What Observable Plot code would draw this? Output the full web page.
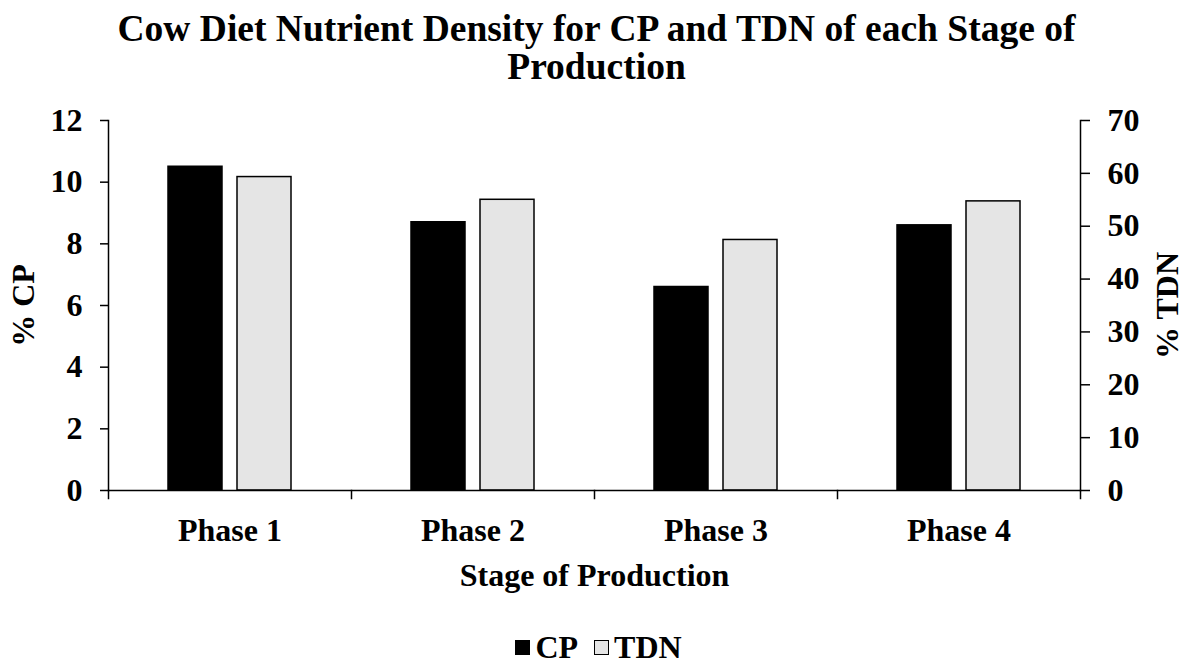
<!DOCTYPE html>
<html>
<head>
<meta charset="utf-8">
<script src="https://cdn.jsdelivr.net/npm/d3@7"></script>
<script src="https://cdn.jsdelivr.net/npm/@observablehq/plot@0.6"></script>
<style>
  html, body { margin: 0; padding: 0; background: white; }
  body { width: 1185px; height: 665px; overflow: hidden; font-family: "Liberation Serif", "Times New Roman", serif; font-weight: bold; color: black; }
  #title { height: 100px; box-sizing: border-box; padding-top: 10px; text-align: center; font-size: 37.5px; line-height: 38px; padding-left: 8px; }
  #chart { height: 520px; }
  #legend { display: flex; justify-content: center; align-items: center; height: 45px; margin-top: 5px; font-size: 32px; padding-left: 12px; }
  .sw { display: inline-block; width: 15px; height: 15px; box-sizing: border-box; margin-right: 5px; }
  .item { display: flex; align-items: center; margin: 0 8px; }
</style>
</head>
<body>
<div id="title">Cow Diet Nutrient Density for CP and TDN of each Stage of<br>Production</div>
<div id="chart"></div>
<div id="legend"></div>
<script>
const phases = ["Phase 1", "Phase 2", "Phase 3", "Phase 4"];
const series = ["CP", "TDN"];
const cpValues = [10.5, 8.7, 6.6, 8.6];
const tdnValues = [59.3, 55.0, 47.4, 54.7];
const cpTicks = [0, 2, 4, 6, 8, 10, 12];
const tdnTicks = [0, 10, 20, 30, 40, 50, 60, 70];
const seriesColors = ["#000000", "#e5e5e5"];
const cpMax = 12, tdnMax = 70;

const rows = phases.flatMap((p, i) => [
  {phase: p, series: "CP", value: cpValues[i], yv: cpValues[i]},
  {phase: p, series: "TDN", value: tdnValues[i], yv: tdnValues[i] * cpMax / tdnMax}
]);

const W = 1185, H = 520, mT = 20, mB = 130, mL = 108, mR = 105;
const innerH = H - mT - mB;
const sw = 1.5;
const fs = 32;

const chart = Plot.plot({
  width: W, height: H,
  marginTop: mT, marginBottom: mB, marginLeft: mL, marginRight: mR,
  style: {fontFamily: "'Liberation Serif','Times New Roman',serif", fontWeight: "bold", fontSize: fs + "px", color: "black", background: "white", overflow: "visible"},
  fx: {domain: phases, padding: 0},
  x: {domain: series, paddingInner: 0.217, paddingOuter: 0.868, axis: null},
  y: {domain: [0, cpMax], axis: null},
  color: {domain: series, range: seriesColors},
  marks: [
    Plot.barY(rows, {fx: "phase", x: "series", y: "yv", fill: "series", stroke: "black", strokeWidth: sw}),
    Plot.ruleY([0], {strokeWidth: sw}),
    Plot.frame({anchor: "left", facetAnchor: "left", strokeWidth: sw}),
    Plot.frame({anchor: "right", facetAnchor: "right", strokeWidth: sw}),
    Plot.frame({anchor: "left", insetTop: innerH, insetBottom: -8, strokeWidth: sw}),
    Plot.frame({anchor: "right", facetAnchor: "right", insetTop: innerH, insetBottom: -8, strokeWidth: sw}),
    Plot.axisY(cpTicks, {anchor: "left", tickSize: 8, tickPadding: 18, strokeWidth: sw, fontSize: fs, label: "% CP", labelArrow: "none", labelAnchor: "center", labelOffset: 97}),
    Plot.axisY(tdnTicks, {anchor: "right", y: d => d * cpMax / tdnMax, tickFormat: d => d, tickSize: 9, tickPadding: 18, strokeWidth: sw, fontSize: fs, label: "% TDN", labelArrow: "none", labelAnchor: "center", labelOffset: 97}),
    Plot.axisFx({anchor: "bottom", tickSize: 0, tickPadding: 28, fontSize: fs, label: "Stage of Production", labelArrow: "none", labelAnchor: "center", labelOffset: 95})
  ]
});
document.getElementById("chart").appendChild(chart);

const legend = document.getElementById("legend");
series.forEach((s, i) => {
  const item = document.createElement("div");
  item.className = "item";
  const box = document.createElement("span");
  box.className = "sw";
  box.style.background = seriesColors[i];
  box.style.border = "1px solid black";
  item.appendChild(box);
  const t = document.createElement("span");
  t.textContent = s;
  item.appendChild(t);
  legend.appendChild(item);
});
</script>
</body>
</html>
